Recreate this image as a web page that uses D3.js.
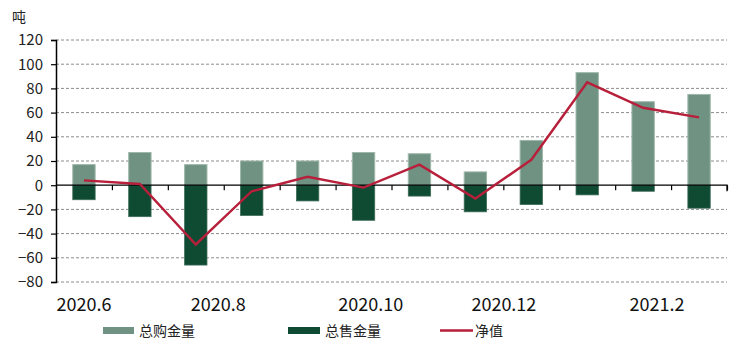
<!DOCTYPE html>
<html><head><meta charset="utf-8">
<script src="https://cdn.jsdelivr.net/npm/d3@7"></script>
<style>
html,body{margin:0;padding:0;background:#fff;}
svg{display:block;font-family:"Noto Sans CJK SC","Liberation Sans",sans-serif;}
</style></head>
<body>
<svg id="chart" width="747" height="349"></svg>
<script>
const months = ["2020.6","2020.7","2020.8","2020.9","2020.10","2020.11","2020.12","2021.1","2021.2","2021.3","2021.4","2021.5"];
const purchase = [17, 27, 17, 20, 20, 27, 26, 11, 37, 93, 69, 75];
const sales = [-12, -26, -66, -25, -13, -29, -9, -22, -16, -8, -5, -19];
const net = [4, 1, -49, -5, 7, -2, 17, -11, 21, 85, 64, 56];
const xLabels = ["2020.6","2020.8","2020.10","2020.12","2021.2"];
const xLabelPos = [0, 2.4, 5.13, 7.51, 10.25]; // position in category-index units
const yTicks = [120,100,80,60,40,20,0,-20,-40,-60,-80];
const unit = "吨";
const seriesNames = ["总购金量","总售金量","净值"];

const C_BUY = "#6f9282", C_BUY_EDGE = "#9fb8ab", C_SELL = "#0f4a33", C_NET = "#b71f3a";

const svg = d3.select("#chart");
const L = 56, R = 727, T = 40, B = 282;
const x = d3.scaleBand().domain(months).range([L, R]).paddingInner(0.6).paddingOuter(0.3);
const xi = d3.scaleLinear().domain([-0.5, months.length - 0.5]).range([L, R]);
const y = d3.scaleLinear().domain([-80, 120]).range([B, T]);

// grid
svg.append("g").selectAll("line").data(yTicks.filter(d => d !== 0)).join("line")
  .attr("x1", L).attr("x2", R).attr("y1", d => y(d)).attr("y2", d => y(d))
  .attr("stroke", "#8c8c8c").attr("stroke-width", 1).attr("stroke-dasharray", "3,2");

// y axis
const yAxis = d3.axisLeft(y).tickValues(yTicks).tickSize(5).tickPadding(8).tickFormat(d3.format("d"));
const gy = svg.append("g").attr("transform", `translate(${L},0)`).call(yAxis);
gy.select(".domain").attr("stroke", "#000").attr("stroke-width", 1.5);
gy.selectAll(".tick line").attr("stroke", "#000").attr("stroke-width", 1.2);
gy.selectAll("text").attr("font-size", 15).attr("fill", "#222").attr("font-family", "'Noto Sans CJK SC',sans-serif");

// bars
svg.append("g").selectAll("rect").data(months).join("rect")
  .attr("x", d => x(d)).attr("width", x.bandwidth())
  .attr("y", (d, i) => y(purchase[i])).attr("height", (d, i) => y(0) - y(purchase[i]))
  .attr("fill", C_BUY).attr("stroke", C_BUY_EDGE).attr("stroke-width", 1);
svg.append("g").selectAll("rect").data(months).join("rect")
  .attr("x", d => x(d)).attr("width", x.bandwidth())
  .attr("y", y(0)).attr("height", (d, i) => y(sales[i]) - y(0))
  .attr("fill", C_SELL).attr("stroke", "#3d6b58").attr("stroke-width", 0.8);

// zero axis with ticks at category boundaries
const gx = svg.append("g").attr("transform", `translate(0,${y(0)})`)
  .call(d3.axisBottom(xi).tickValues(d3.range(0.5, months.length, 1)).tickSize(5).tickFormat(""));
gx.select(".domain").attr("stroke", "#000").attr("stroke-width", 1.3).attr("d", `M${L},0H${R}V6`);
gx.selectAll(".tick line").attr("stroke", "#000").attr("stroke-width", 1.2);

// net line
const line = d3.line().x((d, i) => x(months[i]) + x.bandwidth() / 2).y(d => y(d));
svg.append("path").datum(net).attr("d", line).attr("fill", "none")
  .attr("stroke", C_NET).attr("stroke-width", 2.4).attr("stroke-linejoin", "miter");

// x labels
svg.append("g").selectAll("text").data(xLabels).join("text")
  .attr("x", (d, i) => xi(xLabelPos[i])).attr("y", 311)
  .attr("text-anchor", "middle").attr("font-size", 18).attr("fill", "#111").text(d => d);

// unit
svg.append("text").attr("x", 12).attr("y", 22).attr("font-size", 14).attr("fill", "#222").text(unit);

// legend
const lg = svg.append("g").attr("font-size", 14).attr("fill", "#222");
const lgX = [103, 288, 440];
lg.append("rect").attr("x", lgX[0]).attr("y", 327).attr("width", 31).attr("height", 7).attr("fill", C_BUY);
lg.append("rect").attr("x", lgX[1]).attr("y", 327).attr("width", 32).attr("height", 7).attr("fill", C_SELL);
lg.append("line").attr("x1", lgX[2]).attr("x2", lgX[2] + 33).attr("y1", 330.5).attr("y2", 330.5).attr("stroke", C_NET).attr("stroke-width", 2.4);
const lgTx = [lgX[0] + 36, lgX[1] + 37, lgX[2] + 35];
lg.selectAll("text").data(seriesNames).join("text")
  .attr("x", (d, i) => lgTx[i]).attr("y", 335.5).text(d => d);
</script>
</body></html>
